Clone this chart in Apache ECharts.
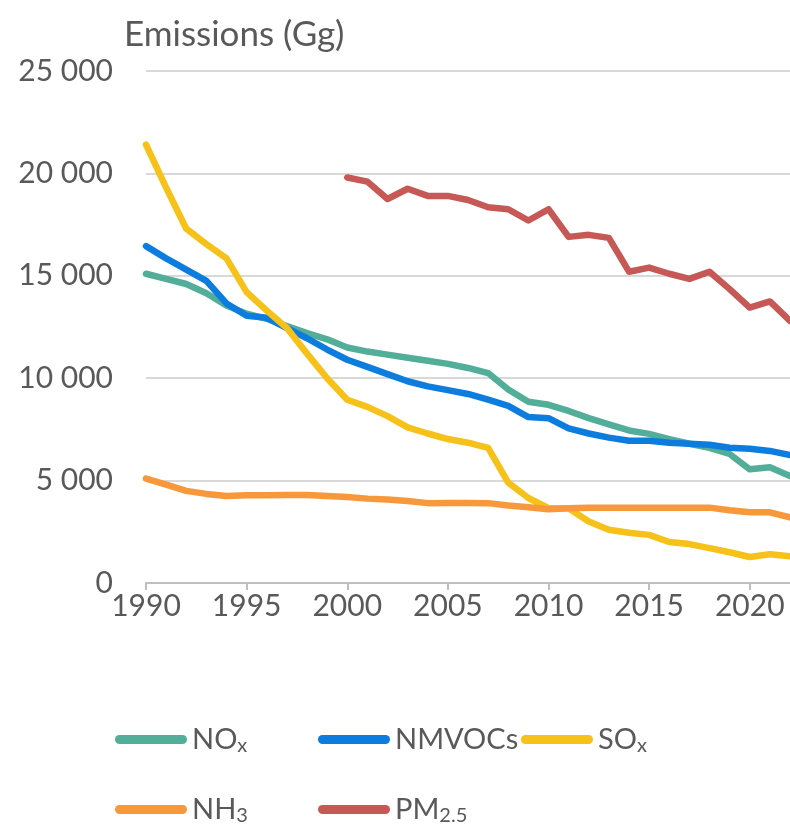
<!DOCTYPE html>
<html>
<head>
<meta charset="utf-8">
<script src="https://cdn.jsdelivr.net/npm/echarts@6/dist/echarts.min.js"></script>
<style>
  html, body { margin: 0; padding: 0; background: #fff; }
  #chart { width: 790px; height: 831px; }
</style>
</head>
<body>
<div id="chart"></div>
<script>
const years = []
for (let y = 1990; y <= 2022; y++) years.push(String(y))

// emissions in Gg
const nox = [15100, 14850, 14600, 14150, 13550, 13150, 12900, 12550, 12200, 11900,
  11500, 11300, 11150, 11000, 10850, 10700, 10500, 10250, 9450, 8850,
  8700, 8400, 8050, 7750, 7450, 7280, 7030, 6800, 6600, 6300,
  5550, 5650, 5220]
const nmvoc = [16450, 15850, 15300, 14750, 13650, 13050, 12950, 12450, 11950, 11400,
  10900, 10550, 10200, 9850, 9600, 9420, 9230, 8950, 8650, 8100,
  8050, 7550, 7300, 7100, 6950, 6950, 6850, 6800, 6750, 6600,
  6550, 6450, 6250]
const sox = [21400, 19300, 17300, 16550, 15850, 14200, 13300, 12450, 11200, 10000,
  8950, 8600, 8150, 7600, 7300, 7030, 6850, 6600, 4900, 4150,
  3650, 3650, 3000, 2600, 2450, 2350, 2000, 1900, 1700, 1500,
  1270, 1400, 1300]
const nh3 = [5100, 4800, 4500, 4350, 4250, 4280, 4280, 4300, 4300, 4250,
  4200, 4120, 4080, 4000, 3900, 3910, 3910, 3900, 3780, 3700,
  3600, 3650, 3680, 3680, 3680, 3680, 3680, 3680, 3680, 3550,
  3450, 3450, 3200]
const pm25 = [null, null, null, null, null, null, null, null, null, null,
  19800, 19600, 18750, 19250, 18900, 18900, 18700, 18350, 18250, 17700,
  18250, 16900, 17000, 16850, 15200, 15400, 15100, 14850, 15200, 14350,
  13450, 13750, 12800]

const seriesNames = ['NOx', 'NMVOCs', 'SOx', 'NH3', 'PM2.5']
const legendLabels = ['NO{s|x}', 'NMVOCs', 'SO{s|x}', 'NH{s|3}', 'PM{s|2.5}']
const colors = ['#52ad99', '#0c7ddf', '#f6c118', '#f7983a', '#c65855']
const seriesData = [nox, nmvoc, sox, nh3, pm25]

const textColor = '#595959'
const fontFamily = 'Lato, "Open Sans", sans-serif'

function fmtThousands(v) {
  return String(v).replace(/\B(?=(\d{3})+(?!\d))/g, ' ')
}

// one legend per item so they sit in Excel's grid slots
const legendSlots = [
  { left: 115, top: 725 },
  { left: 318, top: 725 },
  { left: 521, top: 725 },
  { left: 115, top: 795 },
  { left: 318, top: 795 }
]

const legends = seriesNames.map((name, i) => ({
  data: [name],
  left: legendSlots[i].left,
  top: legendSlots[i].top,
  padding: 0,
  itemWidth: 72,
  itemHeight: 9,
  icon: 'path://M4.5,0 H67.5 A4.5,4.5 0 0 1 67.5,9 H4.5 A4.5,4.5 0 0 1 4.5,0 Z',
  formatter: () => legendLabels[i],
  textStyle: {
    color: textColor,
    fontFamily: fontFamily,
    fontSize: 29,
    rich: {
      s: {
        color: textColor,
        fontFamily: fontFamily,
        fontSize: 20,
        padding: [12, 0, 0, 0]
      }
    }
  }
}))

const chart = echarts.init(document.getElementById('chart'))

chart.setOption({
  animation: false,
  color: colors,
  title: {
    text: 'Emissions (Gg)',
    left: 119,
    top: 12,
    textStyle: {
      color: textColor,
      fontFamily: fontFamily,
      fontSize: 35,
      fontWeight: 'normal'
    }
  },
  grid: {
    left: 146,
    right: 0,
    top: 71,
    bottom: 248
  },
  legend: legends,
  xAxis: {
    type: 'category',
    data: years,
    boundaryGap: false,
    axisLine: { lineStyle: { color: '#bfbfbf', width: 2 } },
    axisTick: {
      interval: 4,
      length: 7,
      lineStyle: { color: '#bfbfbf', width: 2 }
    },
    axisLabel: {
      interval: 4,
      color: textColor,
      fontFamily: fontFamily,
      fontSize: 30,
      margin: 8
    },
    splitLine: { show: false }
  },
  yAxis: {
    type: 'value',
    min: 0,
    max: 25000,
    interval: 5000,
    axisLine: { show: false },
    axisTick: { show: false },
    axisLabel: {
      color: textColor,
      fontFamily: fontFamily,
      fontSize: 30,
      margin: 33,
      formatter: fmtThousands
    },
    splitLine: { lineStyle: { color: '#d9d9d9', width: 2 } }
  },
  series: seriesNames.map((name, i) => ({
    name: name,
    type: 'line',
    data: seriesData[i],
    showSymbol: false,
    symbol: 'none',
    connectNulls: false,
    lineStyle: { width: 6.5, color: colors[i], cap: 'round', join: 'round' },
    itemStyle: { color: colors[i] }
  }))
})
</script>
</body>
</html>
